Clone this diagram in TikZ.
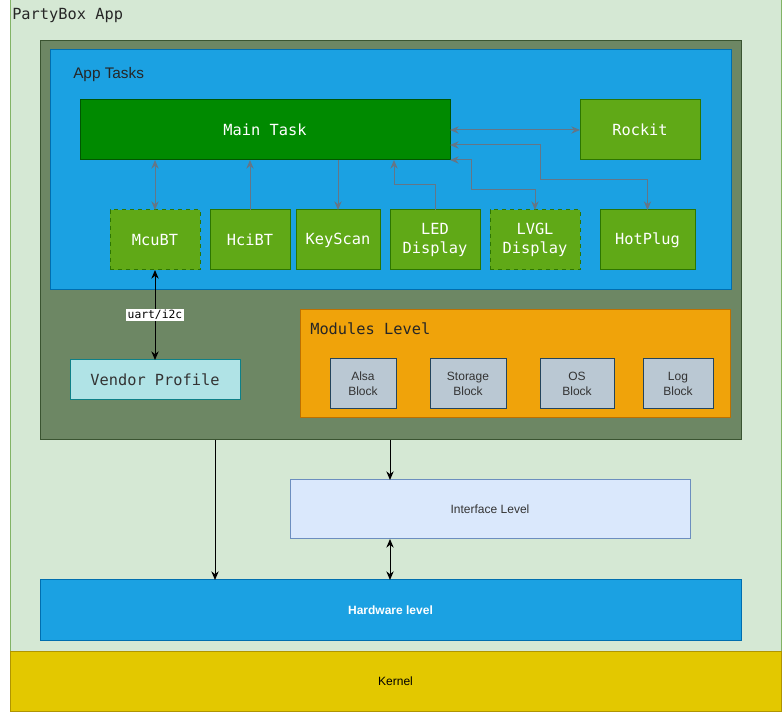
\documentclass[tikz,border=0pt]{standalone}
\usepackage{fontspec}
\setsansfont{Liberation Sans}
\setmonofont{DejaVu Sans Mono}
\usetikzlibrary{arrows.meta}

\definecolor{partyfill}{HTML}{D5E8D4}
\definecolor{partyline}{HTML}{82B366}
\definecolor{kernfill}{HTML}{E3C800}
\definecolor{kernline}{HTML}{B09500}
\definecolor{appfill}{HTML}{6D8764}
\definecolor{appline}{HTML}{3A5431}
\definecolor{bluefill}{HTML}{1BA1E2}
\definecolor{blueline}{HTML}{006EAF}
\definecolor{mainfill}{HTML}{008A00}
\definecolor{mainline}{HTML}{005700}
\definecolor{taskfill}{HTML}{60A917}
\definecolor{taskline}{HTML}{2D7600}
\definecolor{vendfill}{HTML}{B0E3E6}
\definecolor{vendline}{HTML}{0E8088}
\definecolor{modfill}{HTML}{F0A30A}
\definecolor{modline}{HTML}{BD7000}
\definecolor{blkfill}{HTML}{BAC8D3}
\definecolor{blkline}{HTML}{23445D}
\definecolor{iffill}{HTML}{DAE8FC}
\definecolor{ifline}{HTML}{6C8EBF}
\definecolor{linkgray}{HTML}{647687}

\tikzset{
  wh/.style 2 args={minimum width=#1*0.75pt, minimum height=#2*0.75pt},
  layer/.style={draw, line width=0.75pt, inner sep=0pt, outer sep=0pt, anchor=north west, align=center},
  mono/.style={font=\ttfamily\fontsize{11.5}{14.5}\selectfont},
  sans/.style={font=\sffamily\fontsize{9}{11}\selectfont},
  title/.style={anchor=west, inner sep=0pt, text=black!85},
  task/.style={layer, mono, fill=taskfill, draw=taskline, text=white},
  block/.style={layer, sans, fill=blkfill, draw=blkline, text=black!80},
  link/.style={draw=linkgray, line width=0.75pt},
  wire/.style={draw=black, line width=0.75pt},
  >={Stealth[length=6.5pt, width=5.5pt]}
}

\begin{document}
\begin{tikzpicture}[x=0.75pt, y=-0.75pt]
    \useasboundingbox (0,0) rectangle (782,712);

    % outer layers
    \node[layer, fill=partyfill, draw=partyline, wh={771}{651}] (partybox) at (10,0) {};
    \node[title, mono] (partytitle) at (12,16) {PartyBox App};
    \node[layer, sans, fill=kernfill, draw=kernline, wh={771}{60}] (kernel) at (10,651) {Kernel};

    % application container
    \node[layer, fill=appfill, draw=appline, wh={701}{399}] (appbox) at (40,41) {};
    \node[layer, fill=bluefill, draw=blueline, wh={681}{240}] (apptasks) at (50,50) {};
    \node[title, font=\sffamily\fontsize{11.5}{14}\selectfont] (tasktitle) at (73,75) {App Tasks};

    % tasks
    \node[task, fill=mainfill, draw=mainline, wh={370}{60}] (main) at (80,100) {Main Task};
    \node[task, wh={120}{60}] (rockit) at (580,100) {Rockit};
    \node[task, dashed, wh={90}{60}] (mcubt) at (110,210) {McuBT};
    \node[task, wh={80}{60}] (hcibt) at (210,210) {HciBT};
    \node[task, wh={84}{60}] (keyscan) at (296,210) {KeyScan};
    \node[task, wh={90}{60}] (leddisp) at (390,210) {LED\\Display};
    \node[task, dashed, wh={90}{60}] (lvgldisp) at (490,210) {LVGL\\Display};
    \node[task, wh={95}{60}] (hotplug) at (600,210) {HotPlug};

    % vendor profile
    \node[layer, mono, fill=vendfill, draw=vendline, text=black!80, wh={170}{40}] (vendor) at (70,360) {Vendor Profile};

    % modules
    \node[layer, fill=modfill, draw=modline, wh={430}{108}] (modules) at (300,310) {};
    \node[title, mono] (modtitle) at (310,329) {Modules Level};
    \node[block, wh={66}{50}] (alsa) at (330,359) {Alsa\\Block};
    \node[block, wh={76}{50}] (storage) at (430,359) {Storage\\Block};
    \node[block, wh={74}{50}] (osblk) at (540,359) {OS\\Block};
    \node[block, wh={70}{50}] (logblk) at (643,359) {Log\\Block};

    % lower levels
    \node[layer, sans, fill=iffill, draw=ifline, text=black!80, wh={400}{59}] (iface) at (290,480) {Interface Level};
    \node[layer, sans, fill=bluefill, draw=blueline, text=white, wh={701}{60}] (hw) at (40,580) {\bfseries Hardware level};

    % task links
    \coordinate (ledbend) at (394,185);
    \coordinate (lvglbend) at (471,190);
    \coordinate (hpstart) at (450,145);
    \coordinate (hpbend) at (540,180);
    \draw[link, <->] (mcubt.north) -- (mcubt.north |- main.south);
    \draw[link, ->] (hcibt.north) -- (hcibt.north |- main.south);
    \draw[link, ->] (keyscan.north |- main.south) -- (keyscan.north);
    \draw[link, ->] (leddisp.north) |- (ledbend) -- (ledbend |- main.south);
    \draw[link, <->] (main.south east) -| (lvglbend) -| (lvgldisp.north);
    \draw[link, <->] (main.east) -- (rockit.west);
    \draw[link, <->] (hpstart) -| (hpbend) -| (hotplug.north);

    % layer links
    \coordinate (hwtap) at (215,440);
    \coordinate (iftap) at (390,440);
    \draw[wire, <->] (mcubt.south) -- (vendor.north)
        node[midway, fill=white, inner sep=1pt, font=\ttfamily\fontsize{8.5}{10}\selectfont] (uartlbl) {uart/i2c};
    \draw[wire, ->] (hwtap) -- (hwtap |- hw.north);
    \draw[wire, ->] (iftap) -- (iftap |- iface.north);
    \draw[wire, <->] (iftap |- iface.south) -- (iftap |- hw.north);
\end{tikzpicture}
\end{document}
